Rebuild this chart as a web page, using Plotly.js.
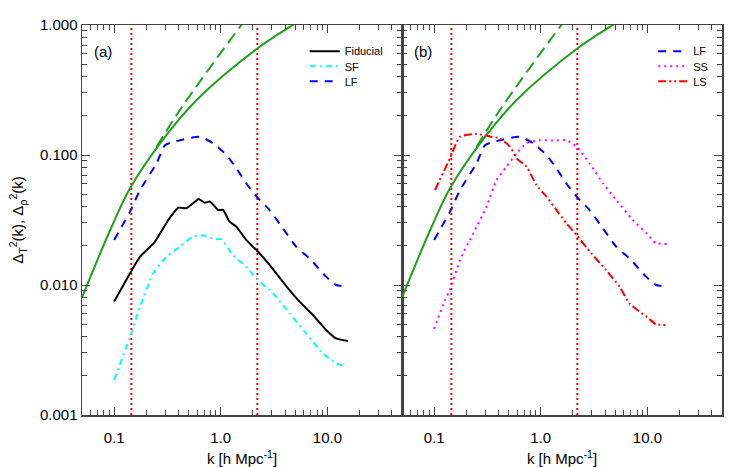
<!DOCTYPE html>
<html>
<head>
<meta charset="utf-8">
<script src="https://cdn.plot.ly/plotly-3.0.1.min.js"></script>
<style>
  html, body { margin: 0; padding: 0; background: #fff; }
  #plot { width: 747px; height: 467px; }
</style>
</head>
<body>
<div id="plot"></div>
<script>
// wavenumbers and power for each run
var kFid = [0.1, 0.141, 0.175, 0.241, 0.322, 0.399, 0.477, 0.55, 0.62, 0.708, 0.79, 0.944, 1.05, 1.21, 1.40, 1.73, 2.24, 2.97, 4.27, 5.48, 7.31, 9.72, 12.05, 15.5];
var pFid = [0.00745, 0.0123, 0.0165, 0.0215, 0.0316, 0.0393, 0.039, 0.0425, 0.0459, 0.043, 0.0439, 0.0378, 0.0378, 0.0307, 0.0281, 0.0222, 0.018, 0.0138, 0.00942, 0.00745, 0.00588, 0.00451, 0.00389, 0.00371];

var kSF = [0.1, 0.141, 0.175, 0.233, 0.311, 0.414, 0.55, 0.68, 0.88, 1.01, 1.30, 1.73, 2.24, 3.1, 4.4, 6.3, 9.06, 12.05, 14.9];
var pSF = [0.00186, 0.0040, 0.0068, 0.0123, 0.0165, 0.0197, 0.0236, 0.024, 0.0225, 0.0225, 0.017, 0.0138, 0.0109, 0.00863, 0.00606, 0.00425, 0.00298, 0.0025, 0.00238];

var kLF = [0.1, 0.141, 0.175, 0.25, 0.30, 0.358, 0.635, 0.85, 1.13, 1.40, 1.73, 2.24, 2.86, 3.82, 5.1, 6.79, 9.72, 12.05, 15.5];
var pLF = [0.0222, 0.0367, 0.0538, 0.0863, 0.119, 0.126, 0.138, 0.123, 0.1, 0.079, 0.0606, 0.0464, 0.0378, 0.0273, 0.0197, 0.016, 0.0116, 0.010, 0.0097];

var kSS = [0.1, 0.127, 0.141, 0.175, 0.233, 0.31, 0.385, 0.477, 0.594, 0.736, 0.98, 1.30, 1.74, 2.16, 2.86, 3.83, 5.1, 7.3, 9.8, 12.0, 15.5];
var pSS = [0.00459, 0.0077, 0.0092, 0.0156, 0.025, 0.040, 0.0642, 0.0813, 0.103, 0.123, 0.130, 0.129, 0.130, 0.116, 0.0863, 0.0606, 0.0451, 0.0316, 0.025, 0.021, 0.0207];

var kLS = [0.102, 0.141, 0.175, 0.251, 0.333, 0.414, 0.513, 0.594, 0.736, 0.91, 1.13, 1.40, 1.74, 2.16, 2.98, 4.1, 5.48, 6.8, 9.8, 12.0, 15.0];
var pLS = [0.0538, 0.0944, 0.138, 0.145, 0.139, 0.134, 0.116, 0.0944, 0.0813, 0.0588, 0.0478, 0.0378, 0.0298, 0.0243, 0.0175, 0.0130, 0.0097, 0.0072, 0.0057, 0.0050, 0.00492];

// green reference curves (solid and dashed)
var kRef = [0.05, 0.092, 0.141, 0.27, 0.594, 2.2, 4.74, 6.0];
var pRef = [0.0080, 0.0265, 0.0555, 0.123, 0.265, 0.66, 1.0, 1.12];
var kLin = [0.25, 0.414, 1.56, 2.0];
var pLin = [0.115, 0.222, 1.0, 1.3];

// red dotted scale markers
var kCuts = [0.145, 2.2];

var majorK = [0.1, 1, 10];
var majorKText = ['0.1', '1.0', '10.0'];
var minorK = [0.05, 0.06, 0.07, 0.08, 0.09, 0.2, 0.3, 0.4, 0.5, 0.6, 0.7, 0.8, 0.9, 2, 3, 4, 5, 6, 7, 8, 9, 20, 30, 40];
var majorP = [0.001, 0.01, 0.1, 1];
var majorPText = ['0.001', '0.010', '0.100', '1.000'];
var minorP = [];
[0.001, 0.01, 0.1].forEach(function (d) {
  for (var m = 2; m <= 9; m++) minorP.push(d * m);
});

var green = '#1fa01f';
var font = 'Liberation Sans, Arial, sans-serif';

function line(x, y, name, color, dash, xa, legend, show, smooth) {
  return {
    x: x, y: y, name: name, mode: 'lines', type: 'scatter',
    xaxis: xa, yaxis: xa === 'x' ? 'y' : 'y2',
    legend: legend, showlegend: show,
    line: { color: color, width: 2, dash: dash, shape: smooth ? 'spline' : 'linear', smoothing: smooth || 0 },
    hoverinfo: 'skip'
  };
}

var data = [];
['x', 'x2'].forEach(function (xa) {
  kCuts.forEach(function (k) {
    data.push(line([k, k], [0.001, 1], '', '#ff0000', '2px,3px', xa, 'legend', false));
  });
  data.push(line(kRef, pRef, '', green, 'solid', xa, 'legend', false, 1));
  data.push(line(kLin, pLin, '', green, '12px,6px', xa, 'legend', false, 1));
});

// one small legend per entry so the rows can sit 15px apart as in the figure
data.push(line(kFid, pFid, 'Fiducial', '#000000', 'solid', 'x', 'legend', true, 0.4));
data.push(line(kSF, pSF, 'SF', '#00ffff', '6px,4px,2px,4px', 'x', 'legend2', true, 0.6));
data.push(line(kLF, pLF, 'LF', '#0000ff', '8px,7px', 'x', 'legend3', true, 0.6));

data.push(line(kLF, pLF, 'LF', '#0000ff', '8px,7px', 'x2', 'legend4', true, 0.6));
data.push(line(kSS, pSS, 'SS', '#ff00ff', '2px,4px', 'x2', 'legend5', true, 0.6));
data.push(line(kLS, pLS, 'LS', '#ff0000', '8px,3px,2px,3px,2px,3px', 'x2', 'legend6', true, 0.6));

function xAxis(domain, anchor) {
  return {
    type: 'log', domain: domain, anchor: anchor,
    range: [Math.log10(0.05), Math.log10(50)],
    tickmode: 'array', tickvals: majorK, ticktext: majorKText,
    ticks: 'inside', ticklen: 8, tickwidth: 1, tickcolor: '#444',
    minor: { tickmode: 'array', tickvals: minorK, ticks: 'inside', ticklen: 5, tickcolor: '#444' },
    showline: true, linecolor: '#444', linewidth: 1.5, mirror: 'allticks',
    showgrid: false, zeroline: false,
    tickfont: { family: font, size: 15, color: '#000' },
    ticklabelstandoff: 8,
    title: { text: 'k [h Mpc<sup>-1</sup>]', font: { family: font, size: 15, color: '#000' }, standoff: 12 }
  };
}

function yAxis(anchor, labels) {
  return {
    type: 'log', anchor: anchor,
    range: [-3, 0],
    tickmode: 'array', tickvals: majorP, ticktext: majorPText,
    showticklabels: labels,
    ticks: 'inside', ticklen: 8, tickwidth: 1, tickcolor: '#444',
    minor: { tickmode: 'array', tickvals: minorP, ticks: 'inside', ticklen: 5, tickcolor: '#444' },
    showline: true, linecolor: '#444', linewidth: 1.5, mirror: 'allticks',
    showgrid: false, zeroline: false,
    tickfont: { family: font, size: 15, color: '#000' },
    title: labels ? { text: 'Δ<sub>T</sub><sup>2</sup>(k), Δ<sub>ρ</sub><sup>2</sup>(k)', font: { family: font, size: 15, color: '#000' }, standoff: 12 } : { text: '' }
  };
}

function legendAt(x, y) {
  return {
    font: { family: font, size: 11, color: '#000' },
    bgcolor: 'rgba(0,0,0,0)', borderwidth: 0,
    xanchor: 'left', yanchor: 'top', x: x, y: y,
    tracegroupgap: 0, itemwidth: 30
  };
}

var layout = {
  width: 747, height: 467,
  margin: { l: 82, r: 25, t: 25, b: 52 },
  paper_bgcolor: '#fff', plot_bgcolor: '#fff',
  font: { family: font, color: '#000' },
  xaxis: xAxis([0, 0.5], 'y'),
  yaxis: yAxis('x', true),
  xaxis2: xAxis([0.5, 1], 'y2'),
  yaxis2: yAxis('x2', false),
  legend: legendAt(0.348, 0.97),
  legend2: legendAt(0.348, 0.9315),
  legend3: legendAt(0.348, 0.893),
  legend4: legendAt(0.8925, 0.97),
  legend5: legendAt(0.8925, 0.9315),
  legend6: legendAt(0.8925, 0.893),
  annotations: [
    { text: '(a)', xref: 'paper', yref: 'paper', x: 0.015, y: 0.96, xanchor: 'left', yanchor: 'top', showarrow: false, font: { family: font, size: 15, color: '#000' } },
    { text: '(b)', xref: 'paper', yref: 'paper', x: 0.515, y: 0.96, xanchor: 'left', yanchor: 'top', showarrow: false, font: { family: font, size: 15, color: '#000' } }
  ],
  showlegend: true
};

Plotly.newPlot('plot', data, layout, { displayModeBar: false, staticPlot: true });
</script>
</body>
</html>
